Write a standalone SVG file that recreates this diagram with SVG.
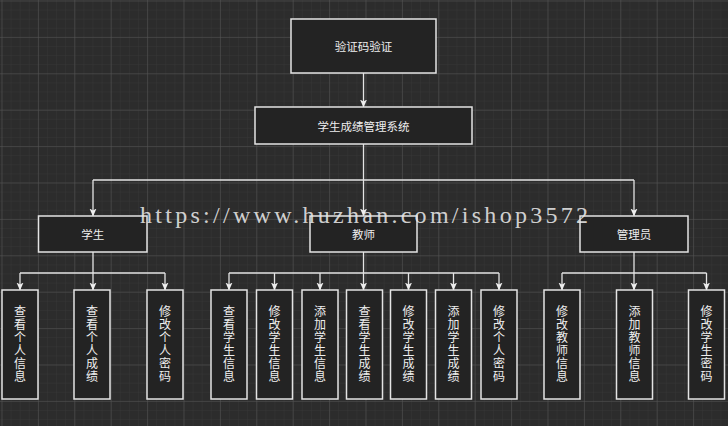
<svg xmlns="http://www.w3.org/2000/svg" width="728" height="426" viewBox="0 0 728 426">
<defs>
<pattern id="minor" x="1.5" y="0.5" width="9.1" height="9.1" patternUnits="userSpaceOnUse">
<path d="M0 0H9.1M0 0V9.1" fill="none" stroke="#383838" stroke-width="0.8"/>
</pattern>
<pattern id="major" x="1.5" y="0.5" width="36.4" height="36.4" patternUnits="userSpaceOnUse">
<path d="M0 0H36.4M0 0V36.4" fill="none" stroke="#555555" stroke-width="1"/>
</pattern>
<marker id="arr" viewBox="0 0 8 8" refX="7.5" refY="4" markerWidth="8" markerHeight="8" markerUnits="userSpaceOnUse" orient="auto">
<path d="M0 0.5L8 4L0 7.5L2 4Z" fill="#eeeeee"/>
</marker>
<style>
.box{fill:#232323;stroke:#e4e4e4;stroke-width:1.5}
.t{fill:#eeeeee;font-family:"Noto Sans CJK SC","Noto Sans",sans-serif;font-size:11.5px;text-anchor:middle;dominant-baseline:central}
.v{fill:#eeeeee;font-family:"Noto Sans CJK SC","Noto Sans",sans-serif;font-size:12px;text-anchor:middle}
.c{fill:none;stroke:#e4e4e4;stroke-width:1.3}
.a{marker-end:url(#arr)}
</style>
</defs>
<rect width="728" height="426" fill="#2c2c2c"/>
<rect width="728" height="426" fill="url(#minor)"/>
<rect width="728" height="426" fill="url(#major)"/>

<g id="connectors">
<path class="c a" d="M363.5 73V107"/>
<path class="c" d="M363.5 144V180M93 180H634"/>
<path class="c a" d="M93 180V216"/>
<path class="c a" d="M363.5 180V216"/>
<path class="c a" d="M634 180V216"/>
<path class="c a" d="M93 252V290"/>
<path class="c" d="M20 273H165"/>
<path class="c a" d="M20 273V290"/>
<path class="c a" d="M165 273V290"/>
<path class="c a" d="M363.5 252V290"/>
<path class="c" d="M229 273H499"/>
<path class="c a" d="M229 273V290"/>
<path class="c a" d="M274.5 273V290"/>
<path class="c a" d="M320 273V290"/>
<path class="c a" d="M408.5 273V290"/>
<path class="c a" d="M453.5 273V290"/>
<path class="c a" d="M499 273V290"/>
<path class="c a" d="M634 252V290"/>
<path class="c" d="M562 273H706.5"/>
<path class="c a" d="M562 273V290"/>
<path class="c a" d="M706.5 273V290"/>
</g>

<g id="n-captcha"><rect class="box" x="291" y="19" width="145" height="54"/><text class="t" x="363.5" y="46">验证码验证</text></g>
<g id="n-system"><rect class="box" x="255" y="107" width="217" height="37"/><text class="t" x="363.5" y="125.5">学生成绩管理系统</text></g>
<g id="n-student"><rect class="box" x="38.5" y="216" width="108.5" height="36"/><text class="t" x="92.75" y="234">学生</text></g>
<g id="n-teacher"><rect class="box" x="310" y="216" width="107" height="36"/><text class="t" x="363.5" y="234">教师</text></g>
<g id="n-admin"><rect class="box" x="580" y="216" width="108" height="36"/><text class="t" x="634" y="234">管理员</text></g>

<g id="l1"><rect class="box" x="2" y="290" width="36" height="109"/><text class="v" x="20"><tspan x="20" y="316">查</tspan><tspan x="20" dy="13">看</tspan><tspan x="20" dy="13">个</tspan><tspan x="20" dy="13">人</tspan><tspan x="20" dy="13">信</tspan><tspan x="20" dy="13">息</tspan></text></g>
<g id="l2"><rect class="box" x="74" y="290" width="36" height="109"/><text class="v" x="92"><tspan x="92" y="316">查</tspan><tspan x="92" dy="13">看</tspan><tspan x="92" dy="13">个</tspan><tspan x="92" dy="13">人</tspan><tspan x="92" dy="13">成</tspan><tspan x="92" dy="13">绩</tspan></text></g>
<g id="l3"><rect class="box" x="147" y="290" width="36" height="109"/><text class="v" x="165"><tspan x="165" y="316">修</tspan><tspan x="165" dy="13">改</tspan><tspan x="165" dy="13">个</tspan><tspan x="165" dy="13">人</tspan><tspan x="165" dy="13">密</tspan><tspan x="165" dy="13">码</tspan></text></g>
<g id="l4"><rect class="box" x="211" y="290" width="36" height="109"/><text class="v" x="229"><tspan x="229" y="316">查</tspan><tspan x="229" dy="13">看</tspan><tspan x="229" dy="13">学</tspan><tspan x="229" dy="13">生</tspan><tspan x="229" dy="13">信</tspan><tspan x="229" dy="13">息</tspan></text></g>
<g id="l5"><rect class="box" x="256.5" y="290" width="36" height="109"/><text class="v" x="274.5"><tspan x="274.5" y="316">修</tspan><tspan x="274.5" dy="13">改</tspan><tspan x="274.5" dy="13">学</tspan><tspan x="274.5" dy="13">生</tspan><tspan x="274.5" dy="13">信</tspan><tspan x="274.5" dy="13">息</tspan></text></g>
<g id="l6"><rect class="box" x="302" y="290" width="36" height="109"/><text class="v" x="320"><tspan x="320" y="316">添</tspan><tspan x="320" dy="13">加</tspan><tspan x="320" dy="13">学</tspan><tspan x="320" dy="13">生</tspan><tspan x="320" dy="13">信</tspan><tspan x="320" dy="13">息</tspan></text></g>
<g id="l7"><rect class="box" x="346.5" y="290" width="36" height="109"/><text class="v" x="364.5"><tspan x="364.5" y="316">查</tspan><tspan x="364.5" dy="13">看</tspan><tspan x="364.5" dy="13">学</tspan><tspan x="364.5" dy="13">生</tspan><tspan x="364.5" dy="13">成</tspan><tspan x="364.5" dy="13">绩</tspan></text></g>
<g id="l8"><rect class="box" x="390.5" y="290" width="36" height="109"/><text class="v" x="408.5"><tspan x="408.5" y="316">修</tspan><tspan x="408.5" dy="13">改</tspan><tspan x="408.5" dy="13">学</tspan><tspan x="408.5" dy="13">生</tspan><tspan x="408.5" dy="13">成</tspan><tspan x="408.5" dy="13">绩</tspan></text></g>
<g id="l9"><rect class="box" x="435.5" y="290" width="36" height="109"/><text class="v" x="453.5"><tspan x="453.5" y="316">添</tspan><tspan x="453.5" dy="13">加</tspan><tspan x="453.5" dy="13">学</tspan><tspan x="453.5" dy="13">生</tspan><tspan x="453.5" dy="13">成</tspan><tspan x="453.5" dy="13">绩</tspan></text></g>
<g id="l10"><rect class="box" x="481" y="290" width="36" height="109"/><text class="v" x="499"><tspan x="499" y="316">修</tspan><tspan x="499" dy="13">改</tspan><tspan x="499" dy="13">个</tspan><tspan x="499" dy="13">人</tspan><tspan x="499" dy="13">密</tspan><tspan x="499" dy="13">码</tspan></text></g>
<g id="l11"><rect class="box" x="544" y="290" width="36" height="109"/><text class="v" x="562"><tspan x="562" y="316">修</tspan><tspan x="562" dy="13">改</tspan><tspan x="562" dy="13">教</tspan><tspan x="562" dy="13">师</tspan><tspan x="562" dy="13">信</tspan><tspan x="562" dy="13">息</tspan></text></g>
<g id="l12"><rect class="box" x="616.5" y="290" width="36" height="109"/><text class="v" x="634.5"><tspan x="634.5" y="316">添</tspan><tspan x="634.5" dy="13">加</tspan><tspan x="634.5" dy="13">教</tspan><tspan x="634.5" dy="13">师</tspan><tspan x="634.5" dy="13">信</tspan><tspan x="634.5" dy="13">息</tspan></text></g>
<g id="l13"><rect class="box" x="688.5" y="290" width="36" height="109"/><text class="v" x="706.5"><tspan x="706.5" y="316">修</tspan><tspan x="706.5" dy="13">改</tspan><tspan x="706.5" dy="13">学</tspan><tspan x="706.5" dy="13">生</tspan><tspan x="706.5" dy="13">密</tspan><tspan x="706.5" dy="13">码</tspan></text></g>

<text x="140" y="223" textLength="448" lengthAdjust="spacing" fill="#e6e6e6" fill-opacity="0.9" font-family="'Liberation Serif',serif" font-size="24">https://www.huzhan.com/ishop3572</text>
</svg>
